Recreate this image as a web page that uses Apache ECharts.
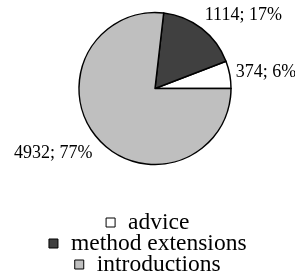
<!DOCTYPE html>
<html>
<head>
<meta charset="utf-8">
<script src="https://cdn.jsdelivr.net/npm/echarts@6/dist/echarts.min.js"></script>
<style>html,body{margin:0;padding:0;background:#fff}#c{width:295px;height:273px}</style>
</head>
<body>
<div id="c"></div>
<script>
var categories = ['advice', 'method extensions', 'introductions'];
var values = [374, 1114, 4932];
var colors = ['#ffffff', '#404040', '#bfbfbf'];

var CX = 155, CY = 88.5, R = 76;
var total = values.reduce(function (a, b) { return a + b; }, 0);
var midAngles = [];
(function () {
  var acc = 0;
  for (var i = 0; i < values.length; i++) {
    var frac = values[i] / total;
    midAngles.push((acc + frac / 2) * 2 * Math.PI);
    acc += frac;
  }
})();

var chart = echarts.init(document.getElementById('c'), null, {renderer: 'canvas'});
var font = "'Liberation Serif', 'Times New Roman', serif";
var legendTops = [210.5, 231.5, 252.5];
var legends = categories.map(function (name, i) {
  return {
    data: [name],
    left: 'center',
    top: legendTops[i],
    padding: [0, 12, 0, 0],
    icon: 'rect',
    itemWidth: 9,
    itemHeight: 9,
    selectedMode: false,
    itemStyle: {borderColor: '#000', borderWidth: 1},
    textStyle: {
      fontFamily: font, fontSize: 23.5, color: '#000', lineHeight: 21, padding: [0, 0, 0, 8]
    }
  };
});

chart.setOption({
  animation: false,
  backgroundColor: '#fff',
  textStyle: {fontFamily: font},
  color: colors,
  legend: legends,
  series: [{
    type: 'pie',
    center: [CX, CY],
    radius: R,
    startAngle: 0,
    clockwise: false,
    avoidLabelOverlap: false,
    data: categories.map(function (c, i) { return {name: c, value: values[i]}; }),
    itemStyle: {borderColor: '#000', borderWidth: 1.5},
    emphasis: {disabled: true},
    labelLine: {show: false},
    label: {
      show: true,
      position: 'outside',
      alignTo: 'none',
      overflow: 'none',
      fontFamily: font,
      fontSize: 18,
      color: '#000',
      formatter: function (p) { return p.value + '; ' + Math.round(p.percent) + '%'; }
    },
    labelLayout: function (p) {
      var a = midAngles[p.dataIndex];
      var c = Math.cos(a), s = Math.sin(a);
      return {
        x: CX + 1.1 * R * c - (c >= 0 ? 1.5 : 0),
        y: CY - 1.25 * R * s + 1.5,
        align: c >= 0 ? 'left' : 'right',
        verticalAlign: 'middle',
        hideOverlap: false,
        moveOverlap: false,
        width: 200
      };
    }
  }]
});
</script>
</body>
</html>
